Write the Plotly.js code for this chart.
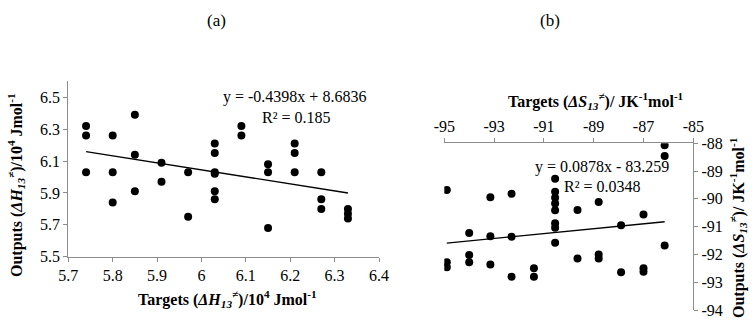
<!DOCTYPE html>
<html>
<head>
<meta charset="utf-8">
<script src="https://cdn.plot.ly/plotly-3.0.1.min.js"></script>
<style>html,body{margin:0;padding:0;background:#fff;}#chart{width:752px;height:327px;}</style>
</head>
<body>
<div id="chart"></div>
<script>
// Panel (a): enthalpy
const aTargets = [5.74,5.74,5.74, 5.80,5.80,5.80, 5.85,5.85,5.85, 5.91,5.91, 5.97,5.97,
  6.03,6.03,6.03,6.03,6.03,6.03, 6.09,6.09, 6.15,6.15,6.15, 6.21,6.21,6.21, 6.27,6.27,6.27, 6.33,6.33,6.33];
const aOutputs = [6.32,6.26,6.03, 6.26,6.03,5.84, 6.39,6.14,5.91, 6.09,5.97, 6.03,5.75,
  6.21,6.15,6.03,6.02,5.91,5.86, 6.32,6.26, 6.08,6.03,5.68, 6.21,6.15,6.03, 6.03,5.86,5.80, 5.80,5.77,5.74];
const aSlope = -0.4398, aIntercept = 8.6836, aR2 = "0.185";
const aXTicks = [5.7,5.8,5.9,6.0,6.1,6.2,6.3,6.4];
const aXTickText = ["5.7","5.8","5.9","6","6.1","6.2","6.3","6.4"];
const aYTicks = [5.5,5.7,5.9,6.1,6.3,6.5];

// Panel (b): entropy
const bTargets = [-94.9,-94.9,-94.9, -94.0,-94.0,-94.0, -93.15,-93.15,-93.15, -92.3,-92.3,-92.3, -91.4,-91.4,
  -90.55,-90.55,-90.55,-90.55,-90.55,-90.55,-90.55,-90.55, -89.65,-89.65, -88.8,-88.8,-88.8,
  -87.9,-87.9, -87.0,-87.0,-87.0, -86.15,-86.15,-86.15];
const bOutputs = [-89.68,-92.28,-92.46, -91.23,-92.02,-92.28, -89.94,-91.35,-92.36, -89.82,-91.36,-92.8, -92.5,-92.8,
  -89.28,-89.74,-89.96,-90.17,-90.41,-90.88,-91.04,-91.58, -90.4,-92.15, -90.11,-92.0,-92.15,
  -90.95,-92.64, -90.56,-92.5,-92.62, -88.07,-88.46,-91.68];
const bSlope = 0.0878, bIntercept = -83.259, bR2 = "0.0348";
const bXTicks = [-95,-93,-91,-89,-87,-85];
const bXTickText = ["-95","-93","-91","-89","-87","-85"];
const bYTicks = [-94,-93,-92,-91,-90,-89,-88];
const bYTickText = ["-94","-93","-92","-91","-90","-89","-88"];

function trend(xs, m, c) {
  const lo = Math.min(...xs), hi = Math.max(...xs);
  return {x: [lo, hi], y: [m*lo + c, m*hi + c]};
}
const ta = trend(aTargets, aSlope, aIntercept);
const tb = trend(bTargets, bSlope, bIntercept);

const FONT = "Liberation Serif, Times New Roman, serif";
const W = 752, H = 327;
const px = v => v / W, py = v => 1 - v / H;

const traces = [
  {x: aTargets, y: aOutputs, mode: 'markers', type: 'scatter', xaxis: 'x', yaxis: 'y',
   marker: {color: '#000', size: 8}},
  {x: ta.x, y: ta.y, mode: 'lines', type: 'scatter', xaxis: 'x', yaxis: 'y',
   line: {color: '#000', width: 1.3}},
  {x: bTargets, y: bOutputs, mode: 'markers', type: 'scatter', xaxis: 'x2', yaxis: 'y2',
   marker: {color: '#000', size: 8}},
  {x: tb.x, y: tb.y, mode: 'lines', type: 'scatter', xaxis: 'x2', yaxis: 'y2',
   line: {color: '#000', width: 1.3}}
];

const axisBase = {
  showgrid: false, zeroline: false, showline: true, linecolor: '#8c8c8c', linewidth: 1,
  ticks: 'outside', ticklen: 4, tickcolor: '#8c8c8c', tickwidth: 1,
  tickfont: {family: FONT, size: 16, color: '#000'}, fixedrange: true
};

function fmtEq(m, c) {
  const sgn = c < 0 ? ' - ' : ' + ';
  return 'y = ' + m + 'x' + sgn + Math.abs(c);
}

const layout = {
  width: W, height: H,
  margin: {l: 0, r: 0, t: 0, b: 0},
  paper_bgcolor: '#fff', plot_bgcolor: 'rgba(0,0,0,0)',
  showlegend: false,
  font: {family: FONT, color: '#000'},
  xaxis: Object.assign({}, axisBase, {
    domain: [px(68.3), px(379)], range: [5.7, 6.4], anchor: 'y',
    tickvals: aXTicks, ticktext: aXTickText
  }),
  yaxis: Object.assign({}, axisBase, {
    domain: [py(256.7), py(81.4)], range: [5.5, 6.6], anchor: 'x',
    tickvals: aYTicks, ticktext: aYTicks.map(v => v.toFixed(1))
  }),
  xaxis2: Object.assign({}, axisBase, {
    domain: [px(444.3), px(693.3)], range: [-95, -85], anchor: 'y2', side: 'top',
    tickvals: bXTicks, ticktext: bXTickText
  }),
  yaxis2: Object.assign({}, axisBase, {
    domain: [py(310), py(143.3)], range: [-94, -88], anchor: 'x2', side: 'right',
    tickvals: bYTicks, ticktext: bYTickText
  }),
  annotations: [
    {text: '(a)', x: px(216.7), y: py(20), xref: 'paper', yref: 'paper', showarrow: false,
     font: {family: FONT, size: 17}, xanchor: 'center', yanchor: 'middle'},
    {text: '(b)', x: px(550), y: py(20), xref: 'paper', yref: 'paper', showarrow: false,
     font: {family: FONT, size: 17}, xanchor: 'center', yanchor: 'middle'},
    {text: '<b>Targets (<i>ΔH<sub>13</sub></i><sup>≠</sup>)/10<sup>4</sup> Jmol<sup>-1</sup></b>',
     x: px(227), y: py(299), xref: 'paper', yref: 'paper', showarrow: false,
     font: {family: FONT, size: 16}, xanchor: 'center', yanchor: 'middle'},
    {text: '<b>Outputs (<i>ΔH<sub>13</sub></i><sup>≠</sup>)/10<sup>4</sup> Jmol<sup>-1</sup></b>',
     x: px(16), y: py(185), xref: 'paper', yref: 'paper', showarrow: false, textangle: -90,
     font: {family: FONT, size: 16}, xanchor: 'center', yanchor: 'middle'},
    {text: fmtEq(aSlope, aIntercept), x: px(294), y: py(97), xref: 'paper', yref: 'paper',
     showarrow: false, font: {family: FONT, size: 16}, xanchor: 'center', yanchor: 'middle'},
    {text: 'R² = ' + aR2, x: px(296), y: py(117), xref: 'paper', yref: 'paper',
     showarrow: false, font: {family: FONT, size: 16}, xanchor: 'center', yanchor: 'middle'},
    {text: '<b>Targets (<i>ΔS<sub>13</sub></i><sup>≠</sup>)/ JK<sup>-1</sup>mol<sup>-1</sup></b>',
     x: px(596), y: py(101), xref: 'paper', yref: 'paper', showarrow: false,
     font: {family: FONT, size: 16}, xanchor: 'center', yanchor: 'middle'},
    {text: '<b>Outputs (<i>ΔS<sub>13</sub></i><sup>≠</sup>)/ JK<sup>-1</sup>mol<sup>-1</sup></b>',
     x: px(738), y: py(228), xref: 'paper', yref: 'paper', showarrow: false, textangle: -90,
     font: {family: FONT, size: 16}, xanchor: 'center', yanchor: 'middle'},
    {text: fmtEq(bSlope, bIntercept), x: px(602), y: py(167), xref: 'paper', yref: 'paper',
     showarrow: false, font: {family: FONT, size: 16}, xanchor: 'center', yanchor: 'middle'},
    {text: 'R² = ' + bR2, x: px(602), y: py(186), xref: 'paper', yref: 'paper',
     showarrow: false, font: {family: FONT, size: 16}, xanchor: 'center', yanchor: 'middle'}
  ]
};

Plotly.newPlot('chart', traces, layout, {displayModeBar: false, staticPlot: true});
</script>
</body>
</html>
